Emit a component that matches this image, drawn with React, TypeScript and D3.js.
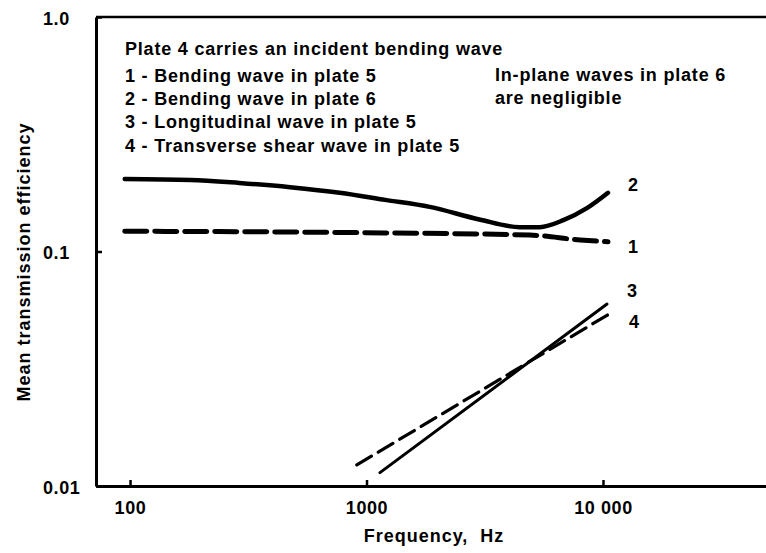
import React, { useEffect, useRef } from 'react';
import * as d3 from 'd3';

// Curve 2 - bending wave in plate 6 (solid, thick)
const freq2 = [95, 180, 290, 475, 770, 1200, 1850, 3000, 4450, 5400, 6800, 8550, 10500];
const eff2 = [0.204, 0.202, 0.196, 0.188, 0.178, 0.166, 0.155, 0.137, 0.127, 0.127, 0.136, 0.153, 0.178];

// Curve 1 - bending wave in plate 5 (dashed, thick)
const freq1 = [95, 520, 1200, 4900, 8000, 10500];
const eff1 = [0.122, 0.121, 0.12, 0.1175, 0.112, 0.11];

// Curve 3 - longitudinal wave in plate 5 (solid)
const freq3 = [1140, 10400];
const eff3 = [0.0114, 0.0597];

// Curve 4 - transverse shear wave in plate 5 (dashed)
const freq4 = [910, 10600];
const eff4 = [0.0123, 0.0541];

const xTicks = [100, 1000, 10000];
const xTickLabels = ['100', '1000', '10 000'];
const yTicks = [0.01, 0.1, 1];
const yTickLabels = ['0.01', '0.1', '1.0'];

const noteLines = [
  'Plate 4 carries an incident bending wave',
  '1 - Bending wave in plate 5',
  '2 - Bending wave in plate 6',
  '3 - Longitudinal wave in plate 5',
  '4 - Transverse shear wave in plate 5',
];
const sideNote = ['In-plane waves in plate 6', 'are negligible'];

const W = 766;
const H = 553;
const FONT = '"Liberation Sans", Arial, Helvetica, sans-serif';

export default function App() {
  const svgRef = useRef<SVGSVGElement>(null);

  useEffect(() => {
    if (!svgRef.current) return;
    const svg = d3.select(svgRef.current);
    svg.selectAll('*').remove();

    const margin = { top: 17, left: 96, bottom: 67 };
    const plotH = H - margin.top - margin.bottom;
    const plotW = W - margin.left;

    const x = d3.scaleLog().domain([71.8, 48900]).range([0, plotW]);
    const y = d3.scaleLog().domain([0.01, 1]).range([plotH, 0]);

    svg.append('rect').attr('width', W).attr('height', H).attr('fill', '#fff');

    const g = svg.append('g').attr('transform', `translate(${margin.left},${margin.top})`);

    const boldText = (sel: d3.Selection<SVGTextElement, unknown, null, undefined>, size: number, spacing = 0.8) =>
      sel.attr('font-family', FONT)
        .attr('font-weight', 'bold')
        .attr('font-size', size)
        .attr('letter-spacing', spacing)
        .attr('fill', '#000');

    // curves
    const series = [
      { f: freq2, v: eff2, width: 4.5, dash: null, label: '2', dy: -2 },
      { f: freq1, v: eff1, width: 5, dash: '22,8', label: '1', dy: 11 },
      { f: freq3, v: eff3, width: 3, dash: null, label: '3', dy: -7 },
      { f: freq4, v: eff4, width: 3.2, dash: '17,8', label: '4', dy: 14 },
    ];

    const line = d3.line<[number, number]>()
      .x(d => x(d[0]))
      .y(d => y(d[1]))
      .curve(d3.curveMonotoneX);

    series.forEach(s => {
      const pts = s.f.map((f, i) => [f, s.v[i]] as [number, number]);
      g.append('path')
        .attr('d', line(pts))
        .attr('fill', 'none')
        .attr('stroke', '#000')
        .attr('stroke-width', s.width)
        .attr('stroke-linecap', 'round')
        .attr('stroke-dasharray', s.dash);
      const last = pts[pts.length - 1];
      boldText(g.append('text'), 18, 0)
        .attr('x', x(last[0]) + 20)
        .attr('y', y(last[1]) + s.dy)
        .text(s.label);
    });

    // axes
    const xAxis = g.append('g')
      .attr('transform', `translate(0,${plotH})`)
      .call(d3.axisBottom(x).tickValues(xTicks).tickSizeInner(-6).tickSizeOuter(0).tickPadding(15)
        .tickFormat((_, i) => xTickLabels[i]));
    const yAxis = g.append('g')
      .call(d3.axisLeft(y).tickValues(yTicks).tickSizeInner(-6).tickSizeOuter(0)
        .tickFormat((_, i) => yTickLabels[i]));

    [xAxis, yAxis].forEach(a => {
      a.select('.domain').attr('stroke', '#000').attr('stroke-width', 3);
      a.selectAll('.tick line').attr('stroke', '#000').attr('stroke-width', 2.5);
      a.selectAll('text')
        .attr('fill', '#000')
        .attr('font-family', FONT)
        .attr('font-weight', 'bold')
        .attr('font-size', 18)
        .attr('letter-spacing', 0.6);
    });
    yAxis.selectAll('text').attr('text-anchor', 'start').attr('x', -53).attr('dy', '0.4em');

    // top frame line
    g.append('line')
      .attr('x1', 0).attr('x2', plotW).attr('y1', 0).attr('y2', 0)
      .attr('stroke', '#000').attr('stroke-width', 2.5);

    // annotation text
    const note = boldText(g.append('text'), 18);
    noteLines.forEach((t, i) => {
      note.append('tspan')
        .attr('x', 29)
        .attr('y', [38, 65, 88, 111, 135][i])
        .text(t);
    });
    const side = boldText(g.append('text'), 18);
    sideNote.forEach((t, i) => {
      side.append('tspan').attr('x', 399).attr('y', 64 + i * 23).text(t);
    });

    // axis titles
    boldText(svg.append('text'), 18, 1)
      .attr('x', 434)
      .attr('y', 542)
      .attr('text-anchor', 'middle')
      .attr('xml:space', 'preserve')
      .text('Frequency,  Hz');
    boldText(svg.append('text'), 18, 1)
      .attr('transform', 'translate(30,262) rotate(-90)')
      .attr('text-anchor', 'middle')
      .text('Mean transmission efficiency');
  }, []);

  return (
    <svg
      ref={svgRef}
      width={W}
      height={H}
      style={{ position: 'absolute', left: 0, top: 0 }}
    />
  );
}
